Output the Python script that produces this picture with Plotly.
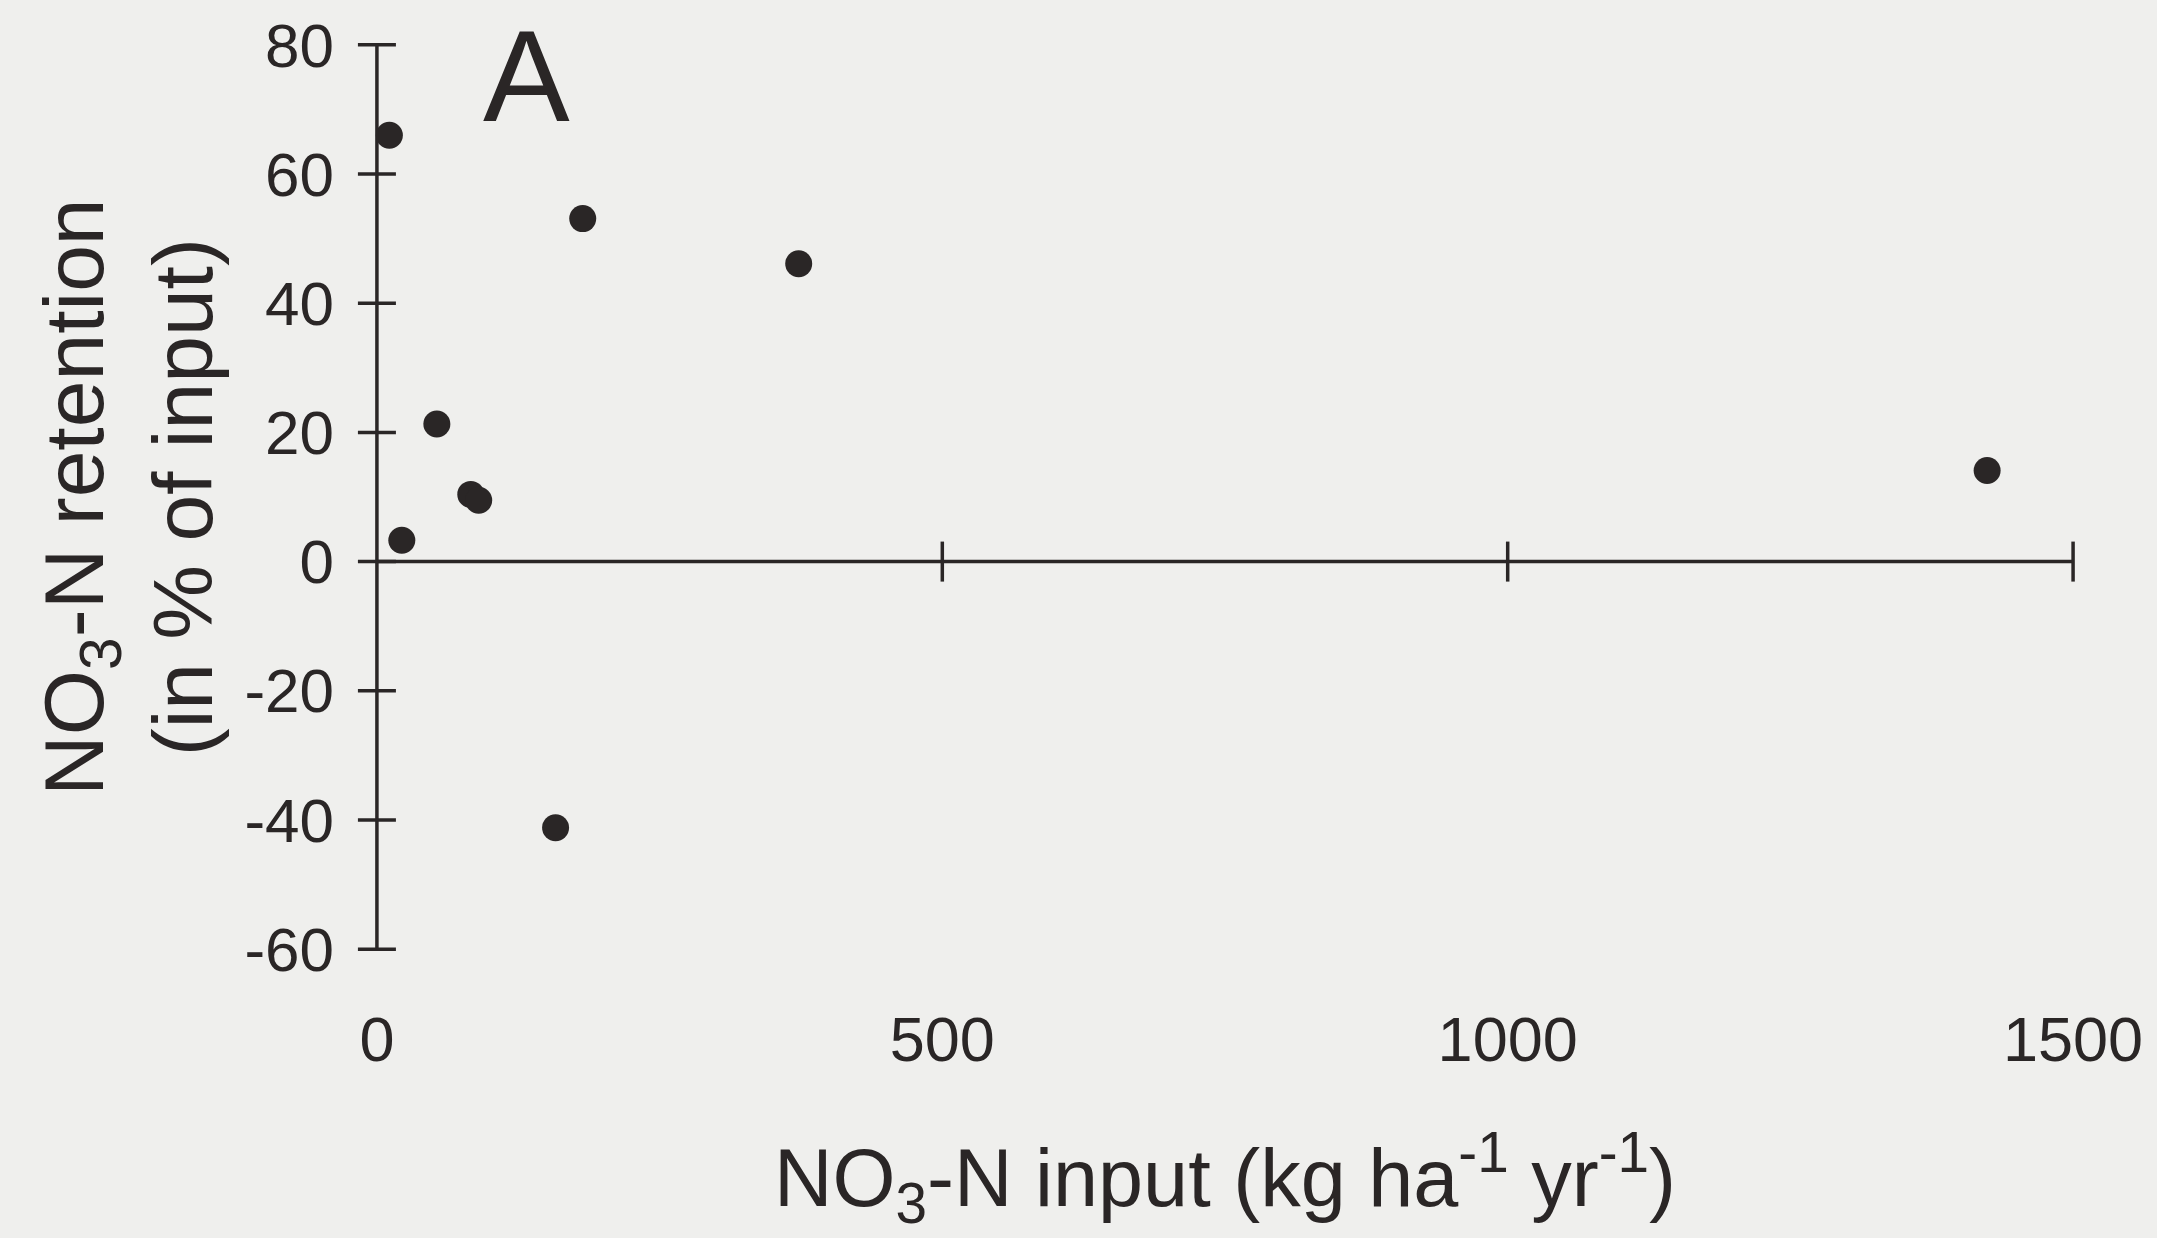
import plotly.graph_objects as go

# NO3-N input (kg ha-1 yr-1) and NO3-N retention (% of input)
x_input = [11, 22, 53, 83, 90, 158, 182, 373, 1424]
retention = [66, 3.3, 21.3, 10.4, 9.5, -41.2, 53.1, 46.1, 14.1]

x_ticks = [0, 500, 1000, 1500]
y_ticks = [-60, -40, -20, 0, 20, 40, 60, 80]

INK = "#2a2626"
PAPER = "#efefed"
FONT = "Liberation Sans, Arial, Helvetica, sans-serif"

fig = go.Figure()

fig.add_trace(go.Scatter(
    x=x_input, y=retention, mode="markers",
    marker=dict(size=27, color=INK, line=dict(width=0)),
    cliponaxis=False, showlegend=False, hoverinfo="x+y",
))

shapes = []
# axis lines crossing at the origin
shapes.append(dict(type="line", xref="x", yref="y", x0=0, x1=0,
                   y0=min(y_ticks), y1=max(y_ticks),
                   line=dict(color=INK, width=3.5)))
shapes.append(dict(type="line", xref="x", yref="y", x0=0, x1=max(x_ticks),
                   y0=0, y1=0, line=dict(color=INK, width=3.5)))
# tick marks straddling the axis lines
for v in y_ticks:
    shapes.append(dict(type="line", xref="x", yref="y", xsizemode="pixel",
                       xanchor=0, x0=-19, x1=19, y0=v, y1=v,
                       line=dict(color=INK, width=3.5)))
for v in x_ticks[1:]:
    shapes.append(dict(type="line", xref="x", yref="y", ysizemode="pixel",
                       yanchor=0, y0=-20, y1=20, x0=v, x1=v,
                       line=dict(color=INK, width=3.5)))

annotations = [
    dict(text="A", xref="x", yref="y", x=132, y=75.2, showarrow=False,
         font=dict(size=130, color=INK, family=FONT)),
    dict(text="NO<sub>3</sub>-N input (kg ha<sup>-1</sup> yr<sup>-1</sup>)",
         xref="x", yref="paper", x=750, y=0, yanchor="middle",
         yshift=-203, showarrow=False,
         font=dict(size=81, color=INK, family=FONT)),
    dict(text="NO<sub>3</sub>-N retention<br>(in % of input)",
         xref="paper", yref="y", x=0, y=10, xanchor="center",
         xshift=-215, textangle=-90, showarrow=False,
         font=dict(size=84, color=INK, family=FONT)),
]

fig.update_layout(
    width=2157, height=1238,
    margin=dict(l=342.6, r=49.7, t=19.4, b=263.2, pad=0),
    paper_bgcolor=PAPER, plot_bgcolor=PAPER,
    font=dict(family=FONT, color=INK),
    shapes=shapes, annotations=annotations,
    xaxis=dict(range=[-30, 1530], tickvals=x_ticks,
               ticktext=[str(v) for v in x_ticks],
               showline=False, showgrid=False, zeroline=False, ticks="",
               ticklabelstandoff=22,
               tickfont=dict(size=63, color=INK, family=FONT)),
    yaxis=dict(range=[-64, 84], tickvals=y_ticks,
               ticktext=[str(v) for v in y_ticks],
               showline=False, showgrid=False, zeroline=False, ticks="",
               ticklabelstandoff=8,
               tickfont=dict(size=62, color=INK, family=FONT)),
)

fig.write_html("out.html")
